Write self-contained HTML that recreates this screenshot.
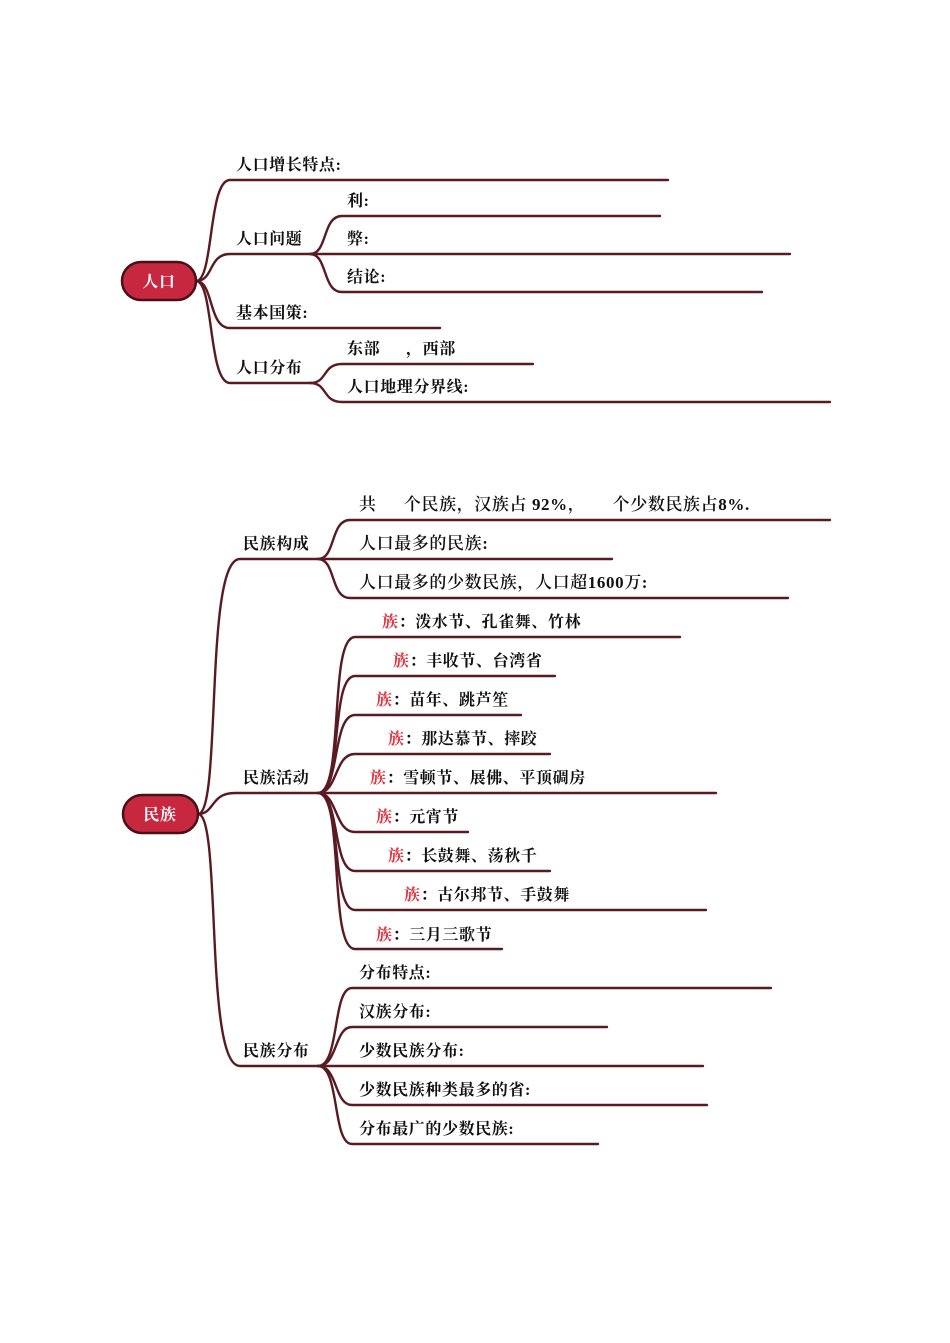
<!DOCTYPE html>
<html><head><meta charset="utf-8"><style>
html,body{margin:0;padding:0;background:#fff;}
svg{display:block;}
text{font-family:"Liberation Serif","Noto Serif CJK SC",serif;font-size:16px;font-weight:bold;fill:#111;letter-spacing:0.6px;}
.r{fill:#e0303c;}
.n{font-weight:600;font-size:17px;}
</style></head><body>
<svg width="950" height="1343" viewBox="0 0 950 1343" xmlns="http://www.w3.org/2000/svg">
<g fill="none" stroke="#5a1a22" stroke-width="2.4" stroke-linecap="round">
<path d="M196 281 C214 281 208 180 230 180 L668 180"/>
<path d="M196 281 C214 281 208 254 230 254 L310 254"/>
<path d="M196 281 C214 281 208 328 230 328 L440 328"/>
<path d="M196 281 C214 281 208 383 230 383 L310 383"/>
<path d="M310 254 C328 254 322 216 342 216 L660 216"/>
<path d="M310 254 L790 254"/>
<path d="M310 254 C328 254 322 292 342 292 L762 292"/>
<path d="M310 383 C328 383 322 364 342 364 L533 364"/>
<path d="M310 383 C328 383 322 402 342 402 L830 402"/>
<path d="M198 814 C222 814 204 559 240 559 L318 559"/>
<path d="M198 814 C215 814 210 793 235 793 L318 793"/>
<path d="M198 814 C222 814 204 1066 240 1066 L318 1066"/>
<path d="M318 559 C336 559 330 520 350 520 L830 520"/>
<path d="M318 559 L612 559"/>
<path d="M318 559 C336 559 330 598 350 598 L788 598"/>
<path d="M318 793 C345 793 328 637 355 637 L680 637"/>
<path d="M318 793 C343 793 330 676 355 676 L555 676"/>
<path d="M318 793 C340 793 332 715 355 715 L521 715"/>
<path d="M318 793 C338 793 334 754 355 754 L550 754"/>
<path d="M318 793 L716 793"/>
<path d="M318 793 C338 793 334 832 355 832 L468 832"/>
<path d="M318 793 C340 793 332 871 355 871 L550 871"/>
<path d="M318 793 C343 793 330 910 355 910 L706 910"/>
<path d="M318 793 C345 793 328 949 355 949 L502 949"/>
<path d="M318 1066 C340 1066 332 988 352 988 L771 988"/>
<path d="M318 1066 C338 1066 334 1027 352 1027 L607 1027"/>
<path d="M318 1066 L703 1066"/>
<path d="M318 1066 C338 1066 334 1105 352 1105 L707 1105"/>
<path d="M318 1066 C340 1066 332 1144 352 1144 L598 1144"/>
</g>
<rect x="122" y="262" width="74" height="38" rx="19" fill="#c8283f" stroke="#4a1018" stroke-width="2.5"/>
<text x="159" y="287" text-anchor="middle" style="fill:#fff">人口</text>
<rect x="123" y="795" width="75" height="38" rx="19" fill="#c8283f" stroke="#4a1018" stroke-width="2.5"/>
<text x="160" y="820" text-anchor="middle" style="fill:#fff">民族</text>

<text x="236" y="170">人口增长特点:</text>
<text x="236" y="244">人口问题</text>
<text x="236" y="318">基本国策:</text>
<text x="236" y="373">人口分布</text>
<text x="347" y="206">利:</text>
<text x="347" y="244">弊:</text>
<text x="347" y="282">结论:</text>
<text x="347" y="354">东部 　 ，西部</text>
<text x="347" y="392">人口地理分界线:</text>

<text x="243" y="549">民族构成</text>
<text x="243" y="783">民族活动</text>
<text x="243" y="1056">民族分布</text>
<text x="359" y="510" class="n">共 　 个民族，汉族占 92%， 　 个少数民族占8%.</text>
<text x="359" y="549" class="n">人口最多的民族:</text>
<text x="359" y="588" class="n">人口最多的少数民族，人口超1600万:</text>

<text x="382" y="627"><tspan class="r">族</tspan>：泼水节、孔雀舞、竹林</text>
<text x="393" y="666"><tspan class="r">族</tspan>：丰收节、台湾省</text>
<text x="376" y="705"><tspan class="r">族</tspan>：苗年、跳芦笙</text>
<text x="388" y="744"><tspan class="r">族</tspan>：那达慕节、摔跤</text>
<text x="370" y="783"><tspan class="r">族</tspan>：雪顿节、展佛、平顶碉房</text>
<text x="376" y="822"><tspan class="r">族</tspan>：元宵节</text>
<text x="388" y="861"><tspan class="r">族</tspan>：长鼓舞、荡秋千</text>
<text x="404" y="900"><tspan class="r">族</tspan>：古尔邦节、手鼓舞</text>
<text x="376" y="940"><tspan class="r">族</tspan>：三月三歌节</text>

<text x="359" y="978">分布特点:</text>
<text x="359" y="1017">汉族分布:</text>
<text x="359" y="1056">少数民族分布:</text>
<text x="359" y="1095">少数民族种类最多的省:</text>
<text x="359" y="1134">分布最广的少数民族:</text>
</svg>
</body></html>
